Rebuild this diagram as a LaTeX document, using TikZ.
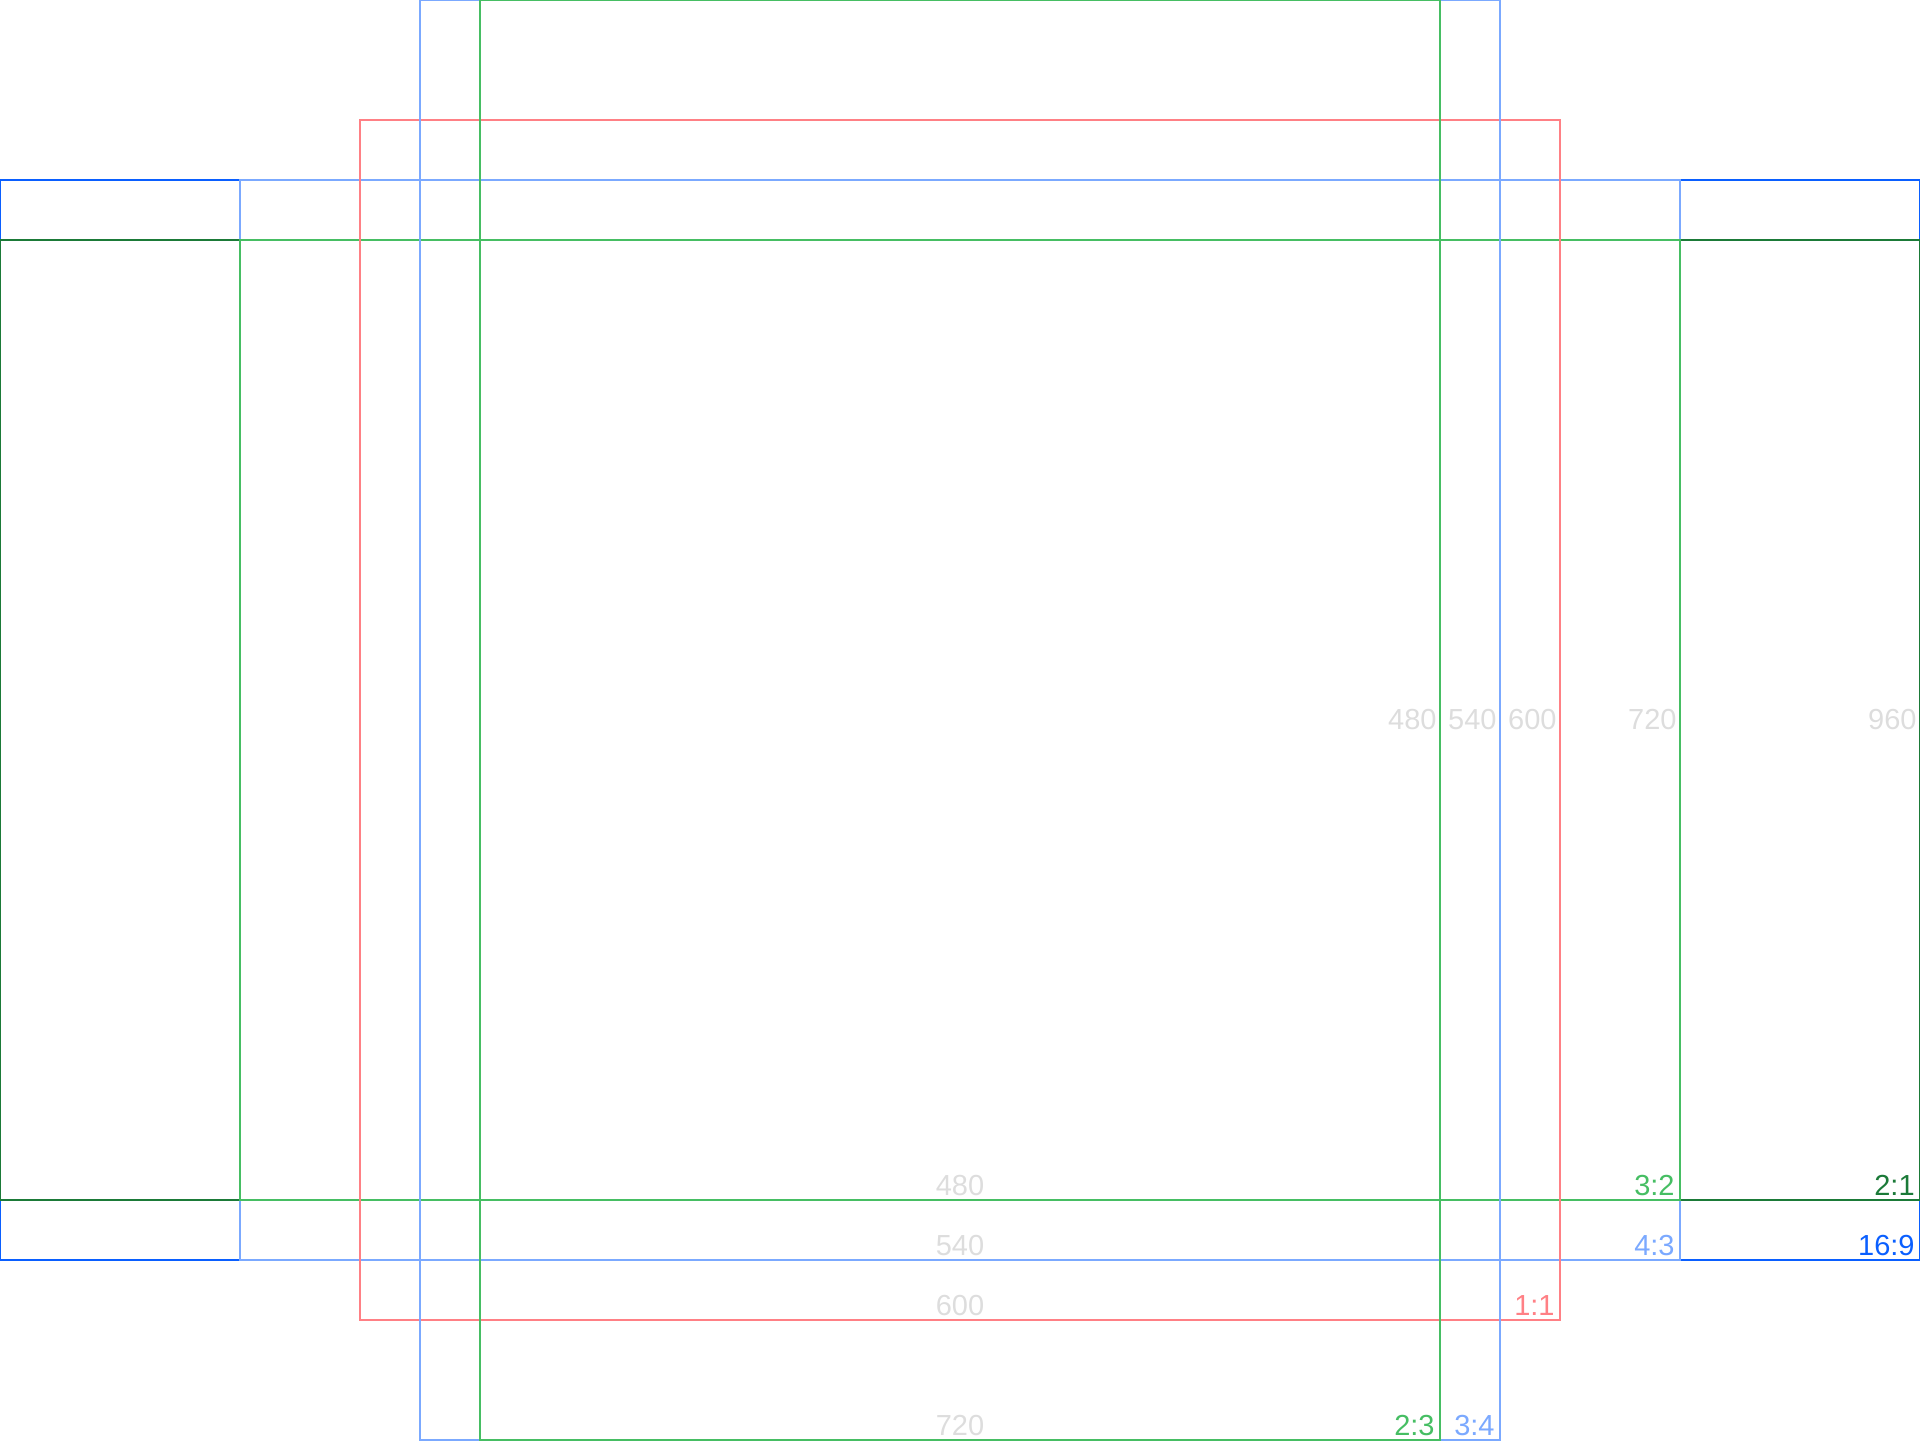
\documentclass[tikz,border=0pt]{standalone}
\usepackage{fontspec}
\setmainfont{Liberation Sans}
\definecolor{ratioBlue}{HTML}{0A5FFF}
\definecolor{ratioSky}{HTML}{7BA9FF}
\definecolor{ratioForest}{HTML}{1B7A38}
\definecolor{ratioGreen}{HTML}{46BE63}
\definecolor{ratioRed}{HTML}{FF8085}
\definecolor{textMuted}{HTML}{DDDDDD}
\usetikzlibrary{positioning}

\begin{document}
\begin{tikzpicture}[
    x=1pt, y=-1pt,
    frame/.style={line width=1pt},
    dim/.style={font=\fontsize{14.5}{16}\selectfont, text=textMuted, inner sep=0pt},
    ratio/.style={font=\fontsize{14.5}{16}\selectfont, inner sep=0pt, anchor=base east}
]
\useasboundingbox (0,0) rectangle (960,720);

% Landscape frames
\draw[frame, ratioBlue] (0,90) rectangle (960,630);
\draw[frame, ratioForest] (0,120) rectangle (960,600);
\draw[frame, ratioSky] (120,90) rectangle (840,630);
\draw[frame, ratioGreen] (120,120) rectangle (840,600);

% Square
\draw[frame, ratioRed] (180,60) rectangle (780,660);

% Portrait frames
\draw[frame, ratioSky] (210,0) rectangle (750,720);
\draw[frame, ratioGreen] (240,0) rectangle (720,720);

% Widths
\node[dim, anchor=east] (w480) at (718.5,360) {480};
\node[dim, anchor=east] (w540) at (748.5,360) {540};
\node[dim, anchor=east] (w600) at (778.5,360) {600};
\node[dim, anchor=east] (w720) at (838.5,360) {720};
\node[dim, anchor=east] (w960) at (958.5,360) {960};

% Heights
\node[dim, anchor=base] (h480) at (480,597.5) {480};
\node[dim, anchor=base] (h540) at (480,627.5) {540};
\node[dim, anchor=base] (h600) at (480,657.5) {600};
\node[dim, anchor=base] (h720) at (480,717.5) {720};

% Ratio labels
\node[ratio, text=ratioForest] (r21) at (957.5,597.5) {2:1};
\node[ratio, text=ratioBlue] (r169) at (957.5,627.5) {16:9};
\node[ratio, text=ratioGreen] (r32) at (837.5,597.5) {3:2};
\node[ratio, text=ratioSky] (r43) at (837.5,627.5) {4:3};
\node[ratio, text=ratioRed] (r11) at (777.5,657.5) {1:1};
\node[ratio, text=ratioGreen] (r23) at (717.5,717.5) {2:3};
\node[ratio, text=ratioSky] (r34) at (747.5,717.5) {3:4};

\end{tikzpicture}
\end{document}
